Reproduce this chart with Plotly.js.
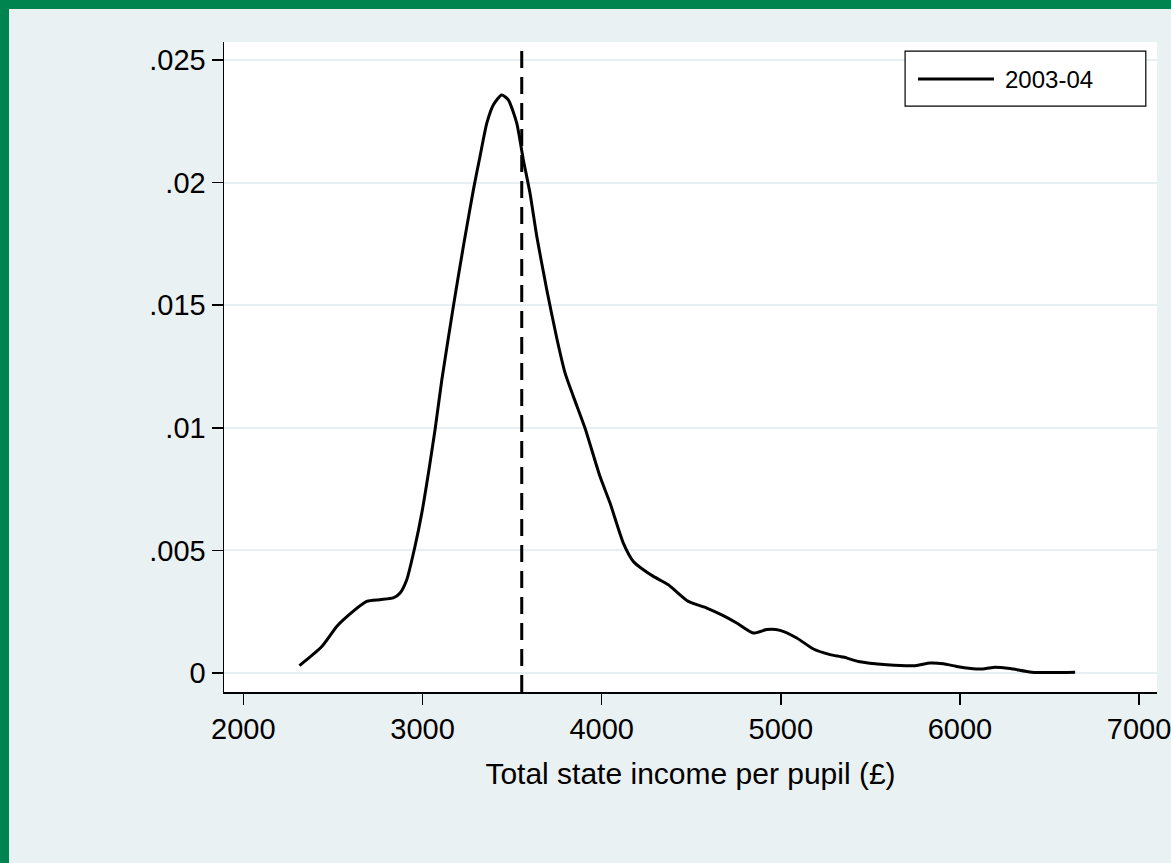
<!DOCTYPE html>
<html>
<head>
<meta charset="utf-8">
<script src="https://cdn.plot.ly/plotly-3.0.1.min.js"></script>
<style>
  html, body { margin: 0; padding: 0; background: #00844f; width: 1171px; height: 863px; overflow: hidden; }
  #chart { position: absolute; left: 9px; top: 9px; width: 1212px; height: 854px; }
</style>
</head>
<body>
<div id="chart"></div>
<script>
// Kernel density of total state income per pupil, 2003-04
const income = [2313, 2438, 2521, 2558, 2689, 2763, 2837, 2875, 2912, 2958, 2996, 3033, 3070, 3108,
  3172, 3228, 3284, 3321, 3359, 3396, 3442, 3479, 3526, 3563, 3600, 3638, 3694, 3749, 3796, 3842,
  3907, 3991, 4047, 4121, 4177, 4233, 4289, 4372, 4484, 4587, 4679, 4754, 4847, 4922, 4996, 5089,
  5182, 5275, 5349, 5433, 5592, 5750, 5833, 5908, 5982, 6112, 6187, 6280, 6401, 6643];
const density = [0.00030, 0.00108, 0.00190, 0.00217, 0.00292, 0.00299, 0.00306, 0.00326, 0.00380,
  0.00516, 0.00652, 0.00815, 0.00992, 0.01196, 0.01494, 0.01739, 0.01970, 0.02106, 0.02242, 0.02317,
  0.02357, 0.02337, 0.02242, 0.02092, 0.01957, 0.01780, 0.01562, 0.01367, 0.01223, 0.01128, 0.00999,
  0.00801, 0.00693, 0.00530, 0.00455, 0.00421, 0.00394, 0.00360, 0.00292, 0.00265, 0.00234, 0.00204,
  0.00163, 0.00177, 0.00174, 0.00143, 0.00098, 0.00075, 0.00065, 0.00047, 0.00034, 0.00030, 0.00041,
  0.00038, 0.00027, 0.00016, 0.00023, 0.00018, 0.00003, 0.00003];
const meanIncome = 3554;
const seriesName = "2003-04";
const xTicks = [2000, 3000, 4000, 5000, 6000, 7000];
const xTickText = ["2000", "3000", "4000", "5000", "6000", "7000"];
const yTicks = [0, 0.005, 0.01, 0.015, 0.02, 0.025];
const yTickText = ["0", ".005", ".01", ".015", ".02", ".025"];
const xTitle = "Total state income per pupil (£)";

const FONT = '"Liberation Sans", Arial, Helvetica, sans-serif';
const BG = '#eaf1f3';

const traces = [{
  type: 'scatter', mode: 'lines', x: income, y: density, name: seriesName,
  line: { color: '#000000', width: 3, shape: 'spline', smoothing: 0.6 },
  showlegend: false, hoverinfo: 'x+y'
}];

const layout = {
  width: 1212, height: 854,
  paper_bgcolor: BG, plot_bgcolor: '#ffffff',
  margin: { l: 215, r: 64, t: 33, b: 171 },
  font: { family: FONT, color: '#000000' },
  showlegend: false,
  xaxis: {
    range: [1892, 7100], tickmode: 'array', tickvals: xTicks, ticktext: xTickText,
    ticks: 'outside', ticklen: 11, tickwidth: 1.5, tickcolor: '#000',
    showline: true, linecolor: '#000', linewidth: 1.5, showgrid: false, zeroline: false,
    tickfont: { size: 29, family: FONT, color: '#000' },
    title: { text: xTitle, font: { size: 30, family: FONT, color: '#000' }, standoff: 18 }
  },
  yaxis: {
    range: [-0.000774, 0.02573], tickmode: 'array', tickvals: yTicks, ticktext: yTickText,
    ticks: 'outside', ticklen: 11, tickwidth: 1.5, tickcolor: '#000',
    showline: true, linecolor: '#000', linewidth: 1.5,
    showgrid: true, gridcolor: '#e7eff2', gridwidth: 2, zeroline: false,
    tickfont: { size: 29, family: FONT, color: '#000' }
  },
  shapes: [
    { type: 'line', xref: 'x', yref: 'paper', x0: meanIncome, x1: meanIncome, y0: 0, y1: 1,
      line: { color: '#000', width: 3, dash: '17px,9px' } },
    // legend box
    { type: 'rect', xref: 'paper', yref: 'paper', x0: 0.730, x1: 0.988, y0: 0.9015, y1: 0.986,
      fillcolor: '#ffffff', line: { color: '#000', width: 1.2 } },
    { type: 'line', xref: 'paper', yref: 'paper', x0: 0.7438, x1: 0.8253, y0: 0.943, y1: 0.943,
      line: { color: '#000', width: 3 } }
  ],
  annotations: [
    { xref: 'paper', yref: 'paper', x: 0.8349, y: 0.943, xanchor: 'left', yanchor: 'middle',
      text: seriesName, showarrow: false, font: { size: 24, family: FONT, color: '#000' } }
  ]
};

Plotly.newPlot('chart', traces, layout, { displayModeBar: false, staticPlot: true });
</script>
</body>
</html>
